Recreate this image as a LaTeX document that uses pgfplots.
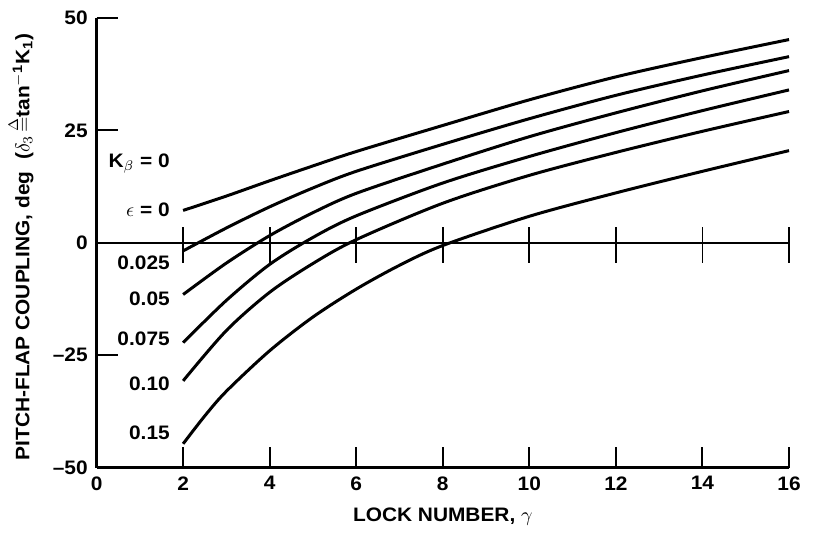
\documentclass[border=0pt]{standalone}
\usepackage{pgfplots}
\pgfplotsset{compat=1.18}
\usepackage{fontspec}
\setmainfont{Liberation Sans}[FakeStretch=1.07]
\begin{document}
\begin{tikzpicture}
\fontsize{9.8}{11.5}\selectfont\bfseries
\begin{axis}[
  scale only axis,
  width=346.5bp, height=225bp,
  at={(0,0)}, anchor=south west,
  xmin=0, xmax=16, ymin=-50, ymax=50,
  axis x line=bottom, axis y line=left,
  axis line style={-, line width=1.2bp},
  xtick={0,2,...,16},
  xticklabels={0,2,4,6,8,10,12,14,16},
  ytick={-50,-25,0,25,50},
  yticklabels={\textendash50,\textendash25,0,25,50},
  tick style={line width=1bp, black},
  major tick length=10.5bp,
  tick align=inside,
  ticklabel style={font=\fontsize{9.8}{11.5}\selectfont\bfseries},
  xticklabel style={yshift=-1bp},
  yticklabel style={xshift=-1bp},
  xlabel={LOCK NUMBER, $\gamma$},
  ylabel={PITCH-FLAP COUPLING, deg\ \ ($\delta_3\!\stackrel{\Delta}{=}$tan\textsuperscript{$-$1}K\textsubscript{1})},
  label style={font=\fontsize{9.8}{11.5}\selectfont\bfseries},
  xlabel style={yshift=-2bp},
  ylabel style={yshift=3bp, yshift=0bp, xshift=-2bp},
  clip=false,
  unbounded coords=jump,
]
% zero line and crossing ticks
\addplot[black, line width=1.3bp] coordinates {(0,0) (16,0)};
\addplot[black, line width=0.9bp] coordinates {
 (2,-4.4) (2,3.6) (2,nan)
 (4,-4.4) (4,3.6) (4,nan)
 (6,-4.4) (6,3.6) (6,nan)
 (8,-4.4) (8,3.6) (8,nan)
 (10,-4.4) (10,3.6) (10,nan)
 (12,-4.4) (12,3.6) (12,nan)
 (14,-4.4) (14,3.6) (14,nan)
 (16,-4.4) (16,3.6)};
% curves
\addplot[black, line width=1.5bp, smooth] coordinates {
 (2,7.2) (3,10.4) (4,13.8) (5,17.1) (6,20.3) (8,26.1) (10,31.8) (12,36.9) (14,41.2) (16,45.2)};
\addplot[black, line width=1.5bp, smooth] coordinates {
 (2,-1.8) (3,3.3) (4,8.0) (5,12.2) (6,15.9) (8,21.9) (10,27.6) (12,32.8) (14,37.3) (16,41.4)};
\addplot[black, line width=1.5bp, smooth] coordinates {
 (2,-11.5) (3,-4.5) (4,1.6) (5,6.7) (6,11.0) (8,17.5) (10,23.6) (12,28.9) (14,33.8) (16,38.3)};
\addplot[black, line width=1.5bp, smooth] coordinates {
 (2,-22.2) (3,-12.8) (4,-4.8) (5,1.2) (6,6.0) (8,13.3) (10,19.2) (12,24.5) (14,29.4) (16,34.0)};
\addplot[black, line width=1.5bp, smooth] coordinates {
 (2,-30.7) (3,-19.5) (4,-11.0) (5,-4.6) (6,0.7) (8,8.8) (10,15.0) (12,20.1) (14,24.8) (16,29.2)};
\addplot[black, line width=1.5bp, smooth] coordinates {
 (2,-44.7) (2.5,-38.5) (3,-33.0) (4,-24.0) (5,-16.5) (6,-10.3) (7,-5.0) (8,-0.6) (10,5.9) (12,11.1) (14,15.9) (16,20.5)};
% curve labels
\node[anchor=east] at (axis cs:1.85,17.7) {K$_\beta$ = 0};
\node[anchor=east] at (axis cs:1.85,7.3) {$\epsilon$ = 0};
\node[anchor=east] at (axis cs:1.85,-4.4) {0.025};
\node[anchor=east] at (axis cs:1.85,-12.4) {0.05};
\node[anchor=east] at (axis cs:1.85,-21.4) {0.075};
\node[anchor=east] at (axis cs:1.85,-31.4) {0.10};
\node[anchor=east] at (axis cs:1.85,-42.2) {0.15};
\end{axis}
\path[use as bounding box] (-48bp,-32.5bp) rectangle (360.5bp,234bp);
\end{tikzpicture}
\end{document}
